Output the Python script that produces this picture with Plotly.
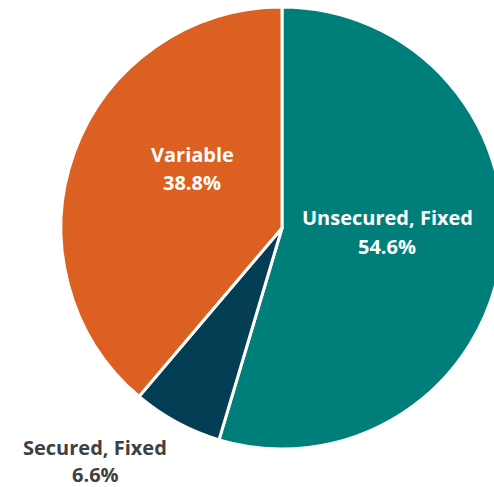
import plotly.graph_objects as go

# Loan mix by rate type
labels = ["Unsecured, Fixed", "Secured, Fixed", "Variable"]
shares = [54.6, 6.6, 38.8]
colors = ["#007F7A", "#033E54", "#DC6022"]

# label text colour per slice, pixel centre of the name line, and gap to the value line
text_colors = ["#FFFFFF", "#404040", "#FFFFFF"]
label_px = [(387, 217), (95, 447), (192, 155)]
line_gaps = [30, 27, 28]

W, H = 510, 487
L, T, D = 61, 7, 442  # pie box: left, top, diameter

fig = go.Figure(
    go.Pie(
        labels=labels,
        values=shares,
        sort=False,
        direction="clockwise",
        rotation=0,
        marker=dict(colors=colors, line=dict(color="white", width=3)),
        textinfo="none",
        hoverinfo="skip",
        showlegend=False,
    )
)

font = dict(family="Open Sans", size=20)
annotations = []
for name, val, col, (px, py), gap in zip(labels, shares, text_colors, label_px, line_gaps):
    for i, txt in enumerate([name, f"{val:.1f}%"]):
        y = py + i * gap
        annotations.append(
            dict(
                text=f"<b>{txt}</b>",
                x=(px - L) / D,
                y=1 - (y - T) / D,
                xref="paper",
                yref="paper",
                xanchor="center",
                yanchor="middle",
                showarrow=False,
                font=dict(color=col, **font),
            )
        )

fig.update_layout(
    width=W,
    height=H,
    margin=dict(l=L, r=W - L - D, t=T, b=H - T - D, pad=0),
    paper_bgcolor="white",
    plot_bgcolor="white",
    annotations=annotations,
)

fig.write_html(
    "out.html",
    config={"displayModeBar": False},
    post_script="document.documentElement.style.overflow='hidden';document.body.style.overflow='hidden';document.body.style.margin='0';",
)
